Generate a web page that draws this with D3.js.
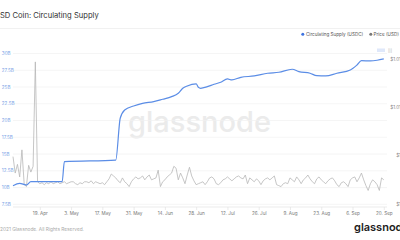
<!DOCTYPE html>
<html>
<head>
<meta charset="utf-8">
<script src="https://cdn.jsdelivr.net/npm/d3@7"></script>
<style>
  body { margin: 0; background: #fff; }
  svg { display: block; font-family: Inter, "Noto Sans", sans-serif; }
</style>
</head>
<body>
<svg id="chart" width="400" height="240"></svg>
<script>
// circulating supply (billions USDC)
const supplyDates = [
  "2021-04-07", "2021-04-10", "2021-04-13", "2021-04-15", "2021-04-29", "2021-04-30",
  "2021-05-23", "2021-05-25", "2021-05-27", "2021-05-31", "2021-06-04", "2021-06-09",
  "2021-06-13", "2021-06-17", "2021-06-20", "2021-06-22", "2021-06-24", "2021-06-28",
  "2021-06-29", "2021-06-30", "2021-07-03", "2021-07-06", "2021-07-09", "2021-07-12",
  "2021-07-14", "2021-07-18", "2021-07-24", "2021-07-30", "2021-08-04", "2021-08-10",
  "2021-08-13", "2021-08-18", "2021-08-21", "2021-08-25", "2021-08-30", "2021-09-05",
  "2021-09-08", "2021-09-10", "2021-09-14", "2021-09-17", "2021-09-20"
];
const supplyValues = [
  10.28, 10.63, 10.38, 10.87, 10.87, 13.86,
  14.10, 20.34, 21.57, 22.17, 22.57, 22.81,
  23.17, 23.56, 24.07, 24.81, 25.16, 25.46,
  24.96, 24.81, 25.05, 25.41, 25.71, 26.20,
  26.05, 26.45, 26.65, 27.05, 27.20, 27.65,
  27.29, 27.05, 26.69, 26.65, 27.05, 27.54,
  28.29, 28.93, 28.89, 28.99, 29.19
];

// daily price (USD), first value on priceStart
const priceStart = "2021-04-07";
const priceValues = [
  1.0024, 1.0007, 1.0016, 1.0003, 1.0031, 0.9996, 0.9993, 1.0015, 1.0008, 1.0014,
  1.0122, 0.9998, 0.9996, 0.9997, 0.9995, 0.9997, 0.9996, 0.9998, 0.9996, 0.9997,
  0.9998, 0.9996, 0.9997, 0.9998, 0.9996, 0.9997, 0.9998, 0.9998, 0.9996, 0.9995,
  0.9997, 0.9996, 0.9998, 0.9998, 0.9997, 0.9999, 0.9996, 0.9998, 0.9997, 0.9996,
  0.9997, 0.9995, 0.9998, 1.0001, 1.0006, 1.0004, 1.0002, 0.9999, 0.9997, 1.0002,
  0.9998, 0.9996, 0.9993, 0.9998, 1.0001, 1.0003, 1.0001, 1.0002, 1.0004, 1.0000,
  1.0003, 1.0005, 1.0000, 1.0001, 1.0002, 1.0010, 0.9993, 0.9998, 1.0000, 1.0003,
  1.0005, 1.0007, 1.0014, 1.0012, 1.0000, 1.0007, 1.0002, 0.9996, 1.0005, 1.0013,
  1.0004, 0.9999, 0.9995, 0.9996, 0.9997, 0.9998, 0.9995, 0.9998, 1.0002, 1.0003,
  1.0001, 0.9996, 0.9995, 0.9997, 1.0000, 1.0001, 1.0003, 1.0001, 0.9999, 1.0001,
  1.0003, 1.0004, 1.0002, 1.0001, 1.0005, 0.9996, 1.0002, 1.0000, 0.9998, 1.0001,
  0.9999, 0.9995, 0.9999, 1.0001, 1.0002, 1.0000, 1.0002, 1.0004, 0.9995, 0.9994,
  0.9993, 0.9996, 0.9997, 0.9996, 1.0002, 1.0000, 0.9998, 1.0003, 1.0000, 0.9996,
  1.0000, 1.0002, 1.0005, 1.0001, 0.9998, 0.9996, 1.0001, 1.0003, 1.0000, 0.9998,
  0.9996, 0.9999, 1.0001, 1.0002, 0.9999, 0.9995, 0.9993, 0.9997, 0.9998, 0.9996,
  0.9993, 1.0000, 1.0002, 1.0003, 0.9998, 1.0002, 1.0007, 1.0000, 0.9994, 0.9989,
  0.9996, 1.0000, 0.9998, 0.9995, 0.9989, 1.0002, 1.0000
];

const supplyTicks = [7.5, 10, 12.5, 15, 17.5, 20, 22.5, 25, 27.5, 30];
const priceTicks = [0.9975, 1.0025, 1.0075, 1.0125];
const dateTicks = [
  "2021-04-19", "2021-05-03", "2021-05-17", "2021-05-31", "2021-06-14", "2021-06-28",
  "2021-07-12", "2021-07-26", "2021-08-09", "2021-08-23", "2021-09-06", "2021-09-20"
];

const width = 400;
const height = 240;
const parse = d3.utcParse("%Y-%m-%d");

const supply = supplyDates.map((d, i) => ({ date: parse(d), value: supplyValues[i] }));
const price = priceValues.map((v, i) => ({ date: d3.utcDay.offset(parse(priceStart), i), value: v }));

const svg = d3.select("#chart");

const x = d3.scaleUtc()
  .domain([parse("2021-04-07"), parse("2021-09-20")])
  .range([13, 383.8]);

const ySupply = d3.scaleLinear().domain([7.5, 30]).range([204.3, 53.5]);
const yPrice = d3.scaleLinear().domain([0.9975, 1.0125]).range([204, 59]);

// title + divider
svg.append("text")
  .attr("x", 0).attr("y", 18)
  .attr("font-size", 7.6)
  .attr("fill", "#333")
  .text("SD Coin: Circulating Supply");

svg.append("line")
  .attr("x1", 0).attr("x2", width)
  .attr("y1", 28.5).attr("y2", 28.5)
  .attr("stroke", "#eeeeee").attr("stroke-width", 0.8);

// legend
const legend = svg.append("g").attr("font-size", 4.6).attr("fill", "#555");
legend.append("circle").attr("cx", 302.8).attr("cy", 34.3).attr("r", 1.5).attr("fill", "#3d72e0");
legend.append("text").attr("x", 306).attr("y", 36).text("Circulating Supply (USDC)");
legend.append("circle").attr("cx", 370.8).attr("cy", 34.3).attr("r", 1.5).attr("fill", "#777");
legend.append("text").attr("x", 373.5).attr("y", 36).text("Price (USD)");

// little toolbar bits top right
svg.append("rect").attr("x", 377).attr("y", 48.5).attr("width", 8).attr("height", 3.5).attr("fill", "#dfe8fa");
svg.append("text").attr("x", 388).attr("y", 52).attr("font-size", 4).attr("fill", "#aaa").text("|||");

// watermark
svg.append("text")
  .attr("x", 199.5).attr("y", 131.5)
  .attr("text-anchor", "middle")
  .attr("font-size", 29)
  .attr("font-weight", 500)
  .attr("fill", "#ebebeb")
  .text("glassnode");

// gridlines
svg.append("g")
  .selectAll("line")
  .data(supplyTicks)
  .join("line")
  .attr("x1", 13).attr("x2", 387)
  .attr("y1", d => ySupply(d)).attr("y2", d => ySupply(d))
  .attr("stroke", "#f0f0f0").attr("stroke-width", 0.7);

// left axis labels
svg.append("g")
  .attr("font-size", 4.6)
  .attr("fill", "#7a9fe6")
  .selectAll("text")
  .data(supplyTicks)
  .join("text")
  .attr("x", 1.8)
  .attr("y", d => ySupply(d) + 1.6)
  .text(d => `${d}B`);

// right axis labels (cut by the frame edge, as in the reference)
const fmtPrice = d => "$" + (+d.toFixed(2)).toString();
svg.append("g")
  .attr("font-size", 4.6)
  .attr("fill", "#888")
  .attr("text-anchor", "end")
  .selectAll("text")
  .data(priceTicks)
  .join("text")
  .attr("x", 401)
  .attr("y", d => yPrice(d) + 1.6)
  .text(fmtPrice);

// x axis
const xAxis = svg.append("g")
  .attr("transform", "translate(0,207)")
  .call(d3.axisBottom(x)
    .tickValues(dateTicks.map(parse))
    .tickSize(3)
    .tickFormat(d3.utcFormat("%-d. %b")));
xAxis.select(".domain").attr("d", "M13,0H387").attr("stroke", "#e2e2e2").attr("stroke-width", 0.7);
xAxis.selectAll(".tick line").attr("stroke", "#e2e2e2").attr("stroke-width", 0.7);
xAxis.selectAll(".tick text")
  .attr("y", 5)
  .attr("font-size", 4.6)
  .attr("font-family", "Inter, sans-serif")
  .attr("fill", "#777");

// price line
svg.append("path")
  .datum(price)
  .attr("fill", "none")
  .attr("stroke", "#b8b8b8")
  .attr("stroke-width", 0.8)
  .attr("stroke-linejoin", "round")
  .attr("d", d3.line().x(d => x(d.date)).y(d => yPrice(d.value)));

// supply line
svg.append("path")
  .datum(supply)
  .attr("fill", "none")
  .attr("stroke", "#5b8de6")
  .attr("stroke-width", 1.2)
  .attr("stroke-linejoin", "round")
  .attr("d", d3.line().x(d => x(d.date)).y(d => ySupply(d.value)).curve(d3.curveMonotoneX));

// footer
svg.append("text")
  .attr("x", 0).attr("y", 231)
  .attr("font-size", 4.8)
  .attr("fill", "#aaa")
  .text("2021 Glassnode. All Rights Reserved.");

svg.append("text")
  .attr("x", 354).attr("y", 231)
  .attr("font-size", 11)
  .attr("font-weight", 600)
  .attr("fill", "#1d1d1d")
  .text("glassnode");
</script>
</body>
</html>
